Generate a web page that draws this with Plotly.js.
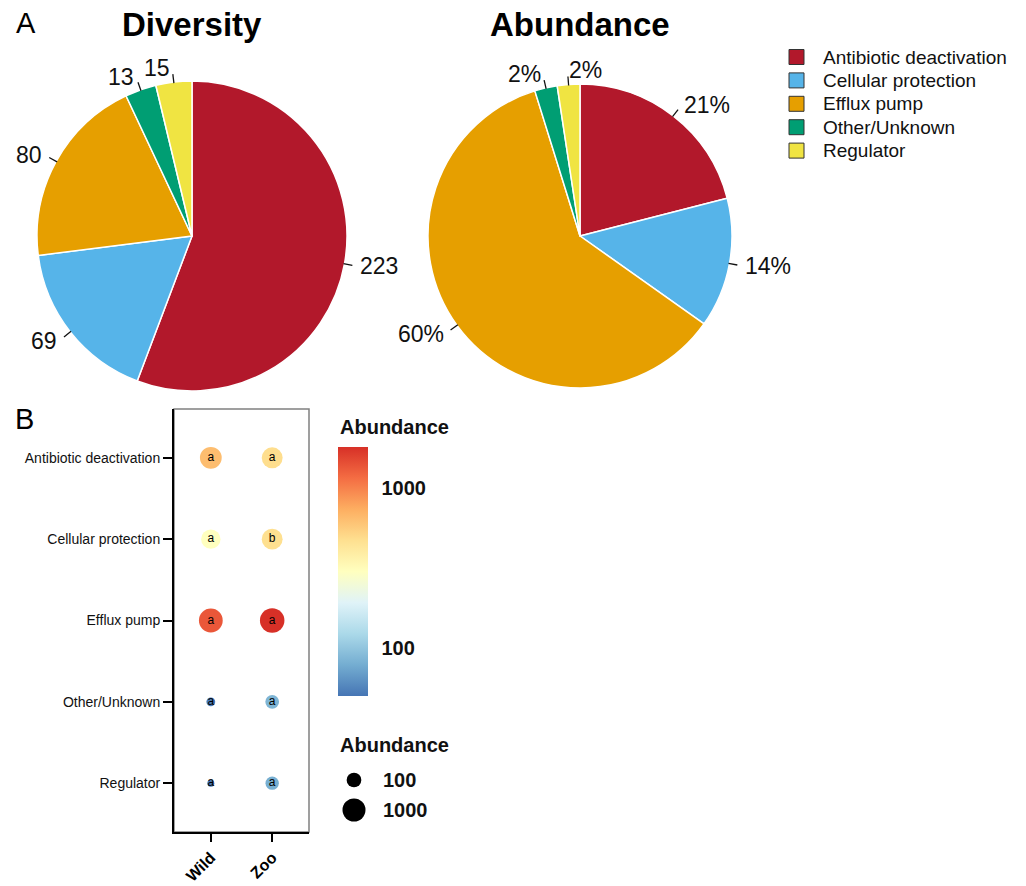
<!DOCTYPE html>
<html>
<head>
<meta charset="utf-8">
<script src="https://cdn.plot.ly/plotly-3.0.1.min.js"></script>
<style>
  html, body { margin: 0; padding: 0; background: #ffffff; }
  #chart { width: 1026px; height: 886px; }
</style>
</head>
<body>
<div id="chart"></div>
<script>
// Resistance mechanism categories and their colours
const categories = ['Antibiotic deactivation', 'Cellular protection', 'Efflux pump', 'Other/Unknown', 'Regulator'];
const pieColors = ['#B2182B', '#56B4E9', '#E69F00', '#009E73', '#F0E442'];

// Panel A: number of genes per mechanism, and share of total abundance (%)
const diversityCounts = [223, 69, 80, 13, 15];
const abundanceShare = [21.0, 13.8, 60.4, 2.4, 2.4];

// Panel B: abundance per mechanism in each host group, with significance letters
const groups = ['Wild', 'Zoo'];
const abundanceWild = [640, 300, 1350, 52, 50];
const abundanceZoo = [480, 470, 1800, 85, 80];
const lettersWild = ['a', 'a', 'a', 'a', 'a'];
const lettersZoo = ['a', 'b', 'a', 'a', 'a'];

// Legend breaks
const colorBreaks = [100, 1000];
const sizeBreaks = [100, 1000];

const W = 1026, H = 886;
const FONT = 'Liberation Sans, Arial, Helvetica, sans-serif';
const INK = '#111111';
const px = x => x / W;
const py = y => 1 - y / H;

const shapes = [];
const annotations = [];

// ---- Panel A: pies ----
const pieGeom = [
  { title: 'Diversity', cx: 192, cy: 236, r: 155 },
  { title: 'Abundance', cx: 580, cy: 236, r: 152 }
];
const LABEL_SIZE = 23;

function pieTrace(values, g) {
  return {
    type: 'pie', labels: categories, values: values,
    sort: false, direction: 'clockwise', rotation: 0,
    marker: { colors: pieColors, line: { color: '#ffffff', width: 1.5 } },
    textinfo: 'none', hoverinfo: 'label+value+percent', showlegend: false,
    domain: { x: [px(g.cx - g.r), px(g.cx + g.r)], y: [py(g.cy + g.r), py(g.cy - g.r)] }
  };
}

// outside labels with short leader ticks at each slice's mid-angle
function pieLabels(values, texts, g) {
  const total = values.reduce((a, b) => a + b, 0);
  let cum = 0;
  const boxes = [];
  values.forEach((v, i) => {
    const mid = (cum + v / 2) / total;
    cum += v;
    const th = 2 * Math.PI * mid;
    const ux = Math.sin(th), uy = -Math.cos(th);
    shapes.push({
      type: 'line', xref: 'paper', yref: 'paper',
      x0: px(g.cx + ux * (g.r - 1)), y0: py(g.cy + uy * (g.r - 1)),
      x1: px(g.cx + ux * (g.r + 8)), y1: py(g.cy + uy * (g.r + 8)),
      line: { color: INK, width: 1.3 }
    });
    const lx = g.cx + ux * (g.r + 14), ly = g.cy + uy * (g.r + 14);
    const w = texts[i].length * 0.6 * LABEL_SIZE;
    let anchor = ux >= 0 ? 'left' : 'right';
    let x0 = anchor === 'left' ? lx : lx - w;
    // flip to the other side of the tick when it would collide with a neighbour
    const hit = boxes.some(b => x0 < b.x1 && x0 + w > b.x0 && Math.abs(ly - b.y) < LABEL_SIZE);
    if (hit) { anchor = anchor === 'left' ? 'right' : 'left'; x0 = anchor === 'left' ? lx : lx - w; }
    boxes.push({ x0: x0, x1: x0 + w, y: ly });
    annotations.push({
      xref: 'paper', yref: 'paper', x: px(lx), y: py(ly),
      xanchor: anchor, yanchor: 'middle',
      text: texts[i], showarrow: false,
      font: { family: FONT, size: LABEL_SIZE, color: INK }
    });
  });
  annotations.push({
    xref: 'paper', yref: 'paper', x: px(g.cx), y: py(24),
    xanchor: 'center', yanchor: 'middle', text: g.title, showarrow: false,
    font: { family: FONT, size: 33, weight: 'bold', color: '#000' }
  });
}

const shareTotal = abundanceShare.reduce((a, b) => a + b, 0);
pieLabels(diversityCounts, diversityCounts.map(String), pieGeom[0]);
pieLabels(abundanceShare, abundanceShare.map(v => Math.round(v / shareTotal * 100) + '%'), pieGeom[1]);

// mechanism key, shared by both pies
categories.forEach((c, i) => {
  const yc = 57 + 23.4 * i;
  shapes.push({
    type: 'rect', xref: 'paper', yref: 'paper',
    x0: px(789), x1: px(804), y0: py(yc + 7.5), y1: py(yc - 7.5),
    fillcolor: pieColors[i], line: { color: '#333333', width: 1 }
  });
  annotations.push({
    xref: 'paper', yref: 'paper', x: px(821), y: py(yc), xanchor: 'left', yanchor: 'middle',
    text: c, showarrow: false, font: { family: FONT, size: 19, color: INK }
  });
});

// ---- Panel B: dot plot ----
const allVals = abundanceWild.concat(abundanceZoo);
const lmin = Math.log10(Math.min(...allVals));
const lmax = Math.log10(Math.max(...allVals));
const tOf = v => Math.max(0, (Math.log10(v) - lmin) / (lmax - lmin));
const dotSize = v => 7 + 17.5 * Math.sqrt(tOf(v));

const colorscale = [
  [0, '#4575b4'], [0.125, '#74add1'], [0.25, '#abd9e9'], [0.375, '#e0f3f8'],
  [0.5, '#ffffbf'], [0.625, '#fee090'], [0.75, '#fdae61'], [0.875, '#f46d43'], [1, '#d73027']
];

const dx = [], dy = [], dv = [], dt = [];
[[groups[0], abundanceWild, lettersWild], [groups[1], abundanceZoo, lettersZoo]].forEach(([g, vals, lets]) => {
  categories.forEach((c, i) => { dx.push(g); dy.push(c); dv.push(vals[i]); dt.push(lets[i]); });
});

const dotTrace = {
  type: 'scatter', mode: 'markers+text', x: dx, y: dy, xaxis: 'x', yaxis: 'y',
  text: dt, textposition: 'middle center',
  textfont: { family: FONT, size: 12, color: '#000' },
  customdata: dv, hovertemplate: '%{y} / %{x}: %{customdata}<extra></extra>',
  showlegend: false,
  marker: {
    size: dv.map(dotSize), sizemode: 'diameter', opacity: 1,
    color: dv.map(v => Math.log10(v)), cmin: lmin, cmax: lmax,
    colorscale: colorscale, line: { width: 0 },
    colorbar: {
      x: px(338), xanchor: 'left', xpad: 0,
      y: py(571.5), yanchor: 'middle', ypad: 0,
      lenmode: 'pixels', len: 249, thickness: 30, outlinewidth: 0,
      tickvals: colorBreaks.map(v => Math.log10(v)), ticktext: colorBreaks.map(String),
      ticks: 'outside', ticklen: 10, tickcolor: 'rgba(0,0,0,0)',
      tickfont: { family: FONT, size: 20, weight: 'bold', color: INK }
    }
  }
};

// white break marks across the colour bar
colorBreaks.forEach(v => {
  const yc = py(571.5) + (249 / H) * ((Math.log10(v) - lmin) / (lmax - lmin) - 0.5);
  [[338, 343], [363, 368]].forEach(([a, b]) => shapes.push({
    type: 'line', xref: 'paper', yref: 'paper', x0: px(a), x1: px(b), y0: yc, y1: yc,
    line: { color: 'rgba(255,255,255,0.85)', width: 1 }
  }));
});

// size key
const keyY = sizeBreaks.map((v, i) => 780 + 30 * i);
const sizeKey = {
  type: 'scatter', mode: 'markers', xaxis: 'x2', yaxis: 'y2',
  x: sizeBreaks.map(() => 354), y: keyY, showlegend: false, hoverinfo: 'skip',
  marker: { size: sizeBreaks.map(dotSize), sizemode: 'diameter', opacity: 1, color: '#000', line: { width: 0 } }
};
sizeBreaks.forEach((v, i) => {
  annotations.push({
    xref: 'x2', yref: 'y2', x: 381, y: keyY[i], xanchor: 'left', yanchor: 'middle',
    text: String(v), showarrow: false,
    font: { family: FONT, size: 20, weight: 'bold', color: INK }
  });
});

// legend titles and panel tags
[[427, 'Abundance'], [745, 'Abundance']].forEach(([y, t]) => {
  annotations.push({
    xref: 'paper', yref: 'paper', x: px(338), y: py(y), xanchor: 'left', yanchor: 'middle',
    text: t, showarrow: false, font: { family: FONT, size: 20, weight: 'bold', color: INK }
  });
});
[[14, 23.5, 'A'], [13, 418.5, 'B']].forEach(([x, y, t]) => {
  annotations.push({
    xref: 'paper', yref: 'paper', x: px(x), y: py(y), xanchor: 'left', yanchor: 'middle',
    text: t, showarrow: false, font: { family: FONT, size: 29, color: '#000' }
  });
});

// panel border (top/right thin grey)
shapes.push({
  type: 'rect', xref: 'x domain', yref: 'y domain', x0: 0, x1: 1, y0: 0, y1: 1,
  line: { color: '#808080', width: 1.5 }, layer: 'below'
});

const layout = {
  width: W, height: H,
  margin: { l: 0, r: 0, t: 0, b: 0 },
  paper_bgcolor: '#ffffff', plot_bgcolor: 'rgba(0,0,0,0)',
  font: { family: FONT, color: INK },
  showlegend: false,
  xaxis: {
    domain: [px(174), px(309)], anchor: 'y', type: 'category',
    categoryorder: 'array', categoryarray: groups, range: [-0.6, 1.6],
    showline: true, linecolor: '#000', linewidth: 2, mirror: false,
    ticks: 'outside', ticklen: 8, tickwidth: 2, tickcolor: '#000', tickangle: -45,
    tickfont: { family: FONT, size: 16, weight: 'bold', color: '#000' },
    showgrid: false, zeroline: false, fixedrange: true
  },
  yaxis: {
    domain: [py(832), py(409)], anchor: 'x', type: 'category',
    categoryorder: 'array', categoryarray: categories, range: [4.6, -0.6],
    showline: true, linecolor: '#000', linewidth: 2,
    ticks: 'outside', ticklen: 9, tickwidth: 2, tickcolor: '#000',
    tickfont: { family: FONT, size: 14, color: INK },
    showgrid: false, zeroline: false, fixedrange: true
  },
  xaxis2: { domain: [px(330), px(470)], range: [330, 470], anchor: 'y2', visible: false, fixedrange: true },
  yaxis2: { domain: [py(840), py(760)], range: [840, 760], anchor: 'x2', visible: false, fixedrange: true },
  shapes: shapes,
  annotations: annotations
};

const data = [
  pieTrace(diversityCounts, pieGeom[0]),
  pieTrace(abundanceShare, pieGeom[1]),
  dotTrace,
  sizeKey
];

Plotly.newPlot('chart', data, layout, { displayModeBar: false });
</script>
</body>
</html>
